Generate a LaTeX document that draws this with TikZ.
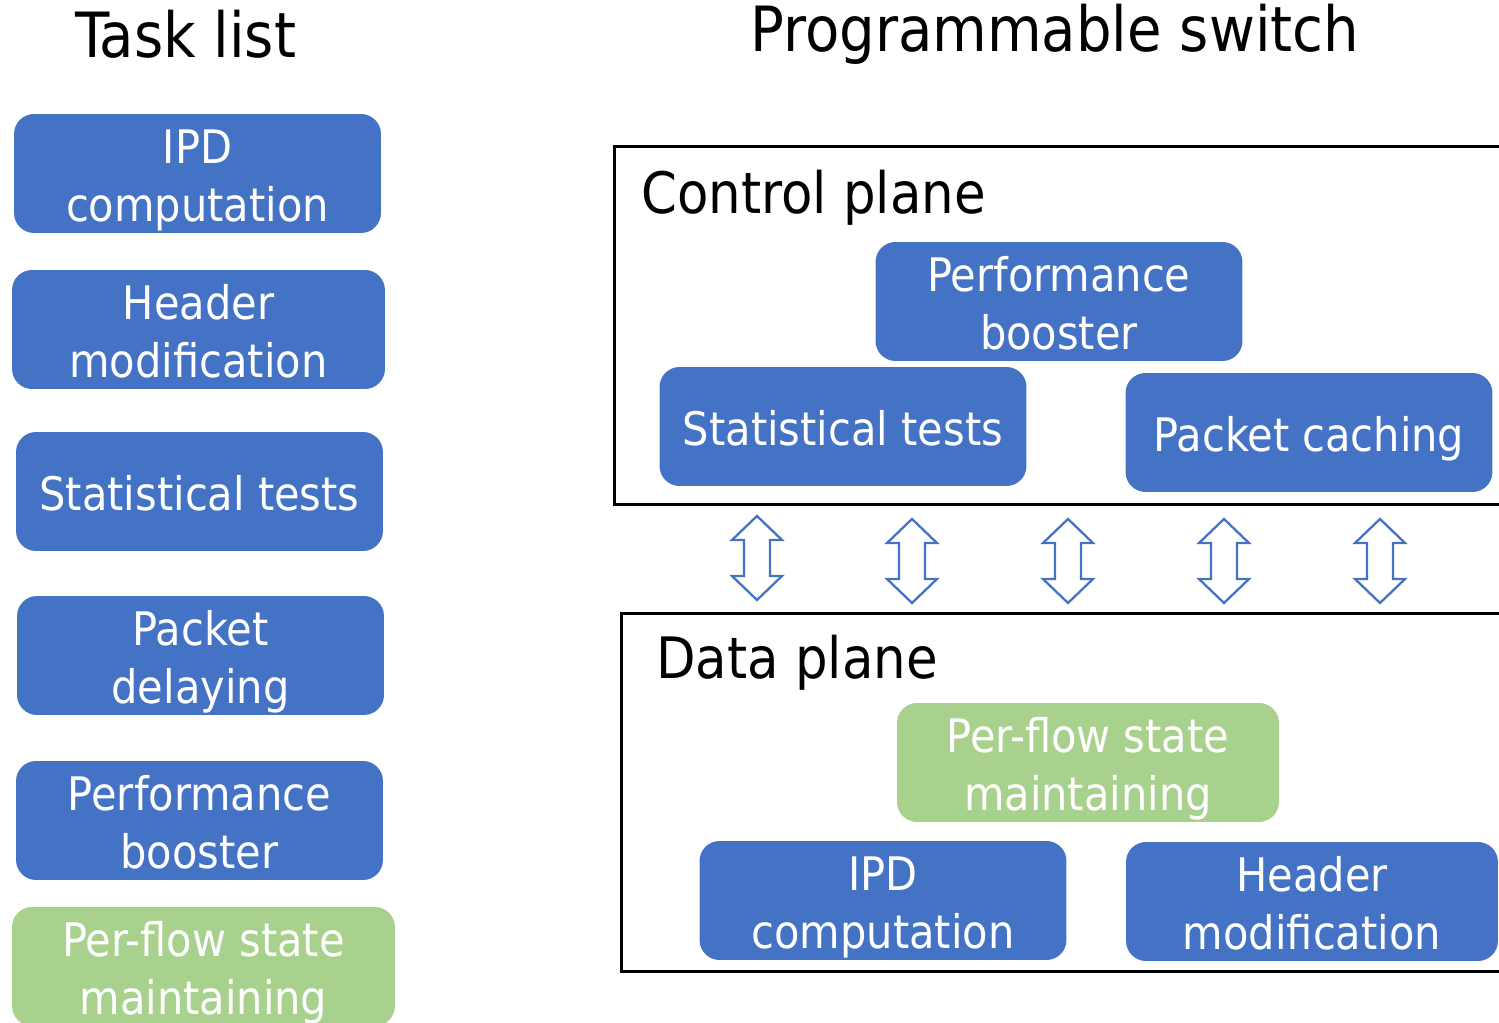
\documentclass[tikz,border=0pt]{standalone}
\usepackage{fontspec}
\IfFontExistsTF{DejaVu Sans Condensed}{\setmainfont{DejaVu Sans Condensed}}{\setmainfont{DejaVu Sans}}
\definecolor{boxblue}{HTML}{4472C4}
\definecolor{boxgreen}{HTML}{A9D18E}

% #1 box style, #2 name, #3 centre, #4 baseline shift of the text, #5 text
\newcommand\taskbox[5]{%
  \node[#1] (#2) at (#3) {};
  \node[tasktext] (#2t) at ([yshift=#4]#2.center) {#5};}

\begin{document}
\begin{tikzpicture}[x=0.02cm,y=-0.02cm,
  task/.style={rounded corners=0.4cm, minimum width=7.34cm, minimum height=2.38cm, inner sep=0pt},
  bluetask/.style={task, fill=boxblue},
  greentask/.style={task, fill=boxgreen},
  tasktext/.style={text=white, align=center, inner sep=0pt, text height=0pt, text depth=0pt,
    font=\fontsize{26.3}{33.4}\selectfont},
  plane/.style={draw=black, line width=1.7pt, inner sep=0pt, anchor=north west},
  heading/.style={font=\fontsize{35.5}{42}\selectfont, anchor=base, inner sep=0pt},
  planelabel/.style={font=\fontsize{32.5}{38}\selectfont, anchor=base west, inner sep=0pt},
  arrowline/.style={draw=boxblue, line width=1.3pt, fill=white, line join=miter},
  updown/.pic={\path[arrowline] (0,-42) -- (25,-18) -- (13,-18) -- (13,18) -- (25,18)
      -- (0,42) -- (-25,18) -- (-13,18) -- (-13,-18) -- (-25,-18) -- cycle;}]
\useasboundingbox (0,0) rectangle (1499,1023);
\clip (0,0) rectangle (1499,1023);

% headings
\node[heading] (tl) at (186,58) {Task list};
\node[heading] (ps) at (1055,52) {Programmable switch};

% task list
\taskbox{bluetask}{l1}{197.5,173.5}{-27.5pt}{IPD\\computation}
\taskbox{bluetask, minimum width=7.46cm}{l2}{198.5,329.5}{-27.5pt}{Header\\modification}
\taskbox{bluetask}{l3}{199.5,491.5}{-10.8pt}{Statistical tests}
\taskbox{bluetask}{l4}{200.5,655.5}{-27.5pt}{Packet\\delaying}
\taskbox{bluetask}{l5}{199.5,820.5}{-27.5pt}{Performance\\booster}
\taskbox{greentask, minimum width=7.66cm}{l6}{203.5,966.5}{-27.5pt}{Per-flow state\\maintaining}

% control plane
\node[plane, minimum width=18cm, minimum height=7.16cm] (cp) at (613,145) {};
\node[planelabel] (cpl) at (641,214) {Control plane};
\taskbox{bluetask}{c1}{1059,301.5}{-27.5pt}{Performance\\booster}
\taskbox{bluetask}{c2}{843,426.5}{-10.8pt}{Statistical tests}
\taskbox{bluetask}{c3}{1309,432.5}{-10.8pt}{Packet caching}

% data plane
\node[plane, minimum width=18cm, minimum height=7.16cm] (dp) at (620,612) {};
\node[planelabel] (dpl) at (656,679) {Data plane};
\taskbox{greentask, minimum width=7.64cm}{d1}{1088,762.5}{-27.5pt}{Per-flow state\\maintaining}
\taskbox{bluetask}{d2}{883,900.5}{-27.5pt}{IPD\\computation}
\taskbox{bluetask, minimum width=7.44cm}{d3}{1312,901.5}{-27.5pt}{Header\\modification}

% exchange between the planes
\pic at (757,558) {updown};
\pic at (912,561) {updown};
\pic at (1068,561) {updown};
\pic at (1224,561) {updown};
\pic at (1380,561) {updown};
\end{tikzpicture}
\end{document}
